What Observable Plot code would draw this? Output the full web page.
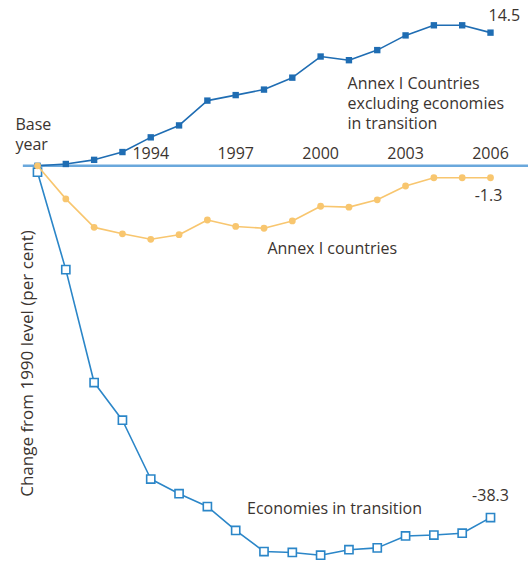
<!DOCTYPE html>
<html>
<head>
<meta charset="utf-8">
<script src="https://cdn.jsdelivr.net/npm/d3@7"></script>
<script src="https://cdn.jsdelivr.net/npm/@observablehq/plot@0.6"></script>
<style>
  html, body { margin: 0; padding: 0; background: #fff; }
  #chart svg { display: block; }
</style>
</head>
<body>
<div id="chart"></div>
<script>
const years = [1990,1991,1992,1993,1994,1995,1996,1997,1998,1999,2000,2001,2002,2003,2004,2005,2006];
const annexExclEIT = [0,0.2,0.65,1.5,3.1,4.4,7.1,7.7,8.3,9.6,11.9,11.5,12.6,14.2,15.3,15.3,14.5];
const annexAll = [0,-3.6,-6.7,-7.4,-8.0,-7.5,-5.9,-6.6,-6.8,-6.0,-4.4,-4.5,-3.7,-2.2,-1.3,-1.3,-1.3];
const eit = [-0.7,-11.3,-23.6,-27.7,-34.1,-35.7,-37.1,-39.7,-42.0,-42.1,-42.4,-41.8,-41.6,-40.3,-40.2,-40.0,-38.3];
const tickYears = [1994,1997,2000,2003,2006];
const endLabels = ["14.5","-1.3","-38.3"];
const seriesNames = ["Annex I Countries\nexcluding economies\nin transition","Annex I countries","Economies in transition"];
const yLabel = "Change from 1990 level (per cent)";

const topRows = years.map((y,i)=>({year:y, v:annexExclEIT[i]}));
const orangeRows = years.map((y,i)=>({year:y, v:annexAll[i]}));
const transRows = years.map((y,i)=>({year:y, v:eit[i]}));

const cBlue = "#1f6db3", cTrans = "#2b86c8", cOrange = "#f8c66f", cZero = "#6aa8dc", cText = "#3b342f";
const font = "'Open Sans', sans-serif";
const fs = 16;

const chart = Plot.plot({
  width: 528, height: 563,
  margin: 0,
  style: {fontFamily: font, background: "#fff"},
  x: {domain: [1990, 2006], range: [37, 490], axis: null},
  y: {domain: [-43.3, 18], range: [563, 0], axis: null},
  marks: [
    Plot.ruleY([0], {x1: 1989.5, x2: 2007.4, stroke: cZero, strokeWidth: 2.5}),
    Plot.text(tickYears, {x: d => d, y: 0, text: d => String(d), dy: -12, fontSize: fs, fill: cText}),
    Plot.line(transRows, {x: "year", y: "v", stroke: cTrans, strokeWidth: 1.6}),
    Plot.dot(transRows, {x: "year", y: "v", symbol: "square", r: 4.6, stroke: cTrans, strokeWidth: 1.6, fill: "#fff"}),
    Plot.line(topRows, {x: "year", y: "v", stroke: cBlue, strokeWidth: 1.6}),
    Plot.dot(topRows, {x: "year", y: "v", symbol: "square", r: 3.6, fill: cBlue}),
    Plot.line(orangeRows, {x: "year", y: "v", stroke: cOrange, strokeWidth: 1.6}),
    Plot.dot(orangeRows, {x: "year", y: "v", r: 3.4, fill: cOrange}),
    Plot.text([{x: 2006, y: annexExclEIT[16], t: endLabels[0]}], {x: "x", y: "y", text: "t", textAnchor: "start", dx: -2, dy: -17, fontSize: fs, fill: cText}),
    Plot.text([{x: 2006, y: annexAll[16], t: endLabels[1]}], {x: "x", y: "y", text: "t", dx: -2, dy: 18, fontSize: fs, fill: cText}),
    Plot.text([{x: 2006, y: eit[16], t: endLabels[2]}], {x: "x", y: "y", text: "t", dx: 0, dy: -22, fontSize: fs, fill: cText}),
    Plot.text([{x: 2000.95, y: 6.86, t: seriesNames[0]}], {x: "x", y: "y", text: "t", textAnchor: "start", lineHeight: 1.25, fontSize: fs, fill: cText}),
    Plot.text([{x: 1998.12, y: -9.0, t: seriesNames[1]}], {x: "x", y: "y", text: "t", textAnchor: "start", fontSize: fs, fill: cText}),
    Plot.text([{x: 1997.4, y: -37.4, t: seriesNames[2]}], {x: "x", y: "y", text: "t", textAnchor: "start", fontSize: fs, fill: cText}),
    Plot.text([{x: 1989.22, y: 3.48, t: "Base\nyear"}], {x: "x", y: "y", text: "t", textAnchor: "start", lineHeight: 1.25, fontSize: fs, fill: cText}),
    Plot.text([yLabel], {frameAnchor: "top-left", dx: 20, dy: 363, rotate: -90, textAnchor: "middle", text: d => d, fontSize: 17, fill: cText})
  ]
});
document.getElementById("chart").appendChild(chart);
</script>
</body>
</html>
